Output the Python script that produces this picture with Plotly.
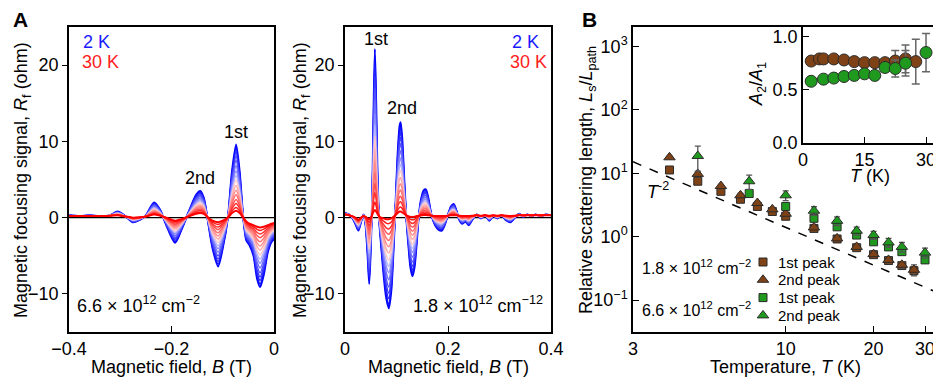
import plotly.graph_objects as go

FONT = "Liberation Sans, Arial, Helvetica, sans-serif"
W, H = 933, 379

# ---------------- Panel A, left (6.6e12 cm^-2) ----------------
left_B = [-0.40, -0.38, -0.36, -0.34, -0.32, -0.305, -0.29, -0.275, -0.262, -0.25,
          -0.234, -0.222, -0.21, -0.193, -0.18, -0.165, -0.152, -0.144, -0.137, -0.13,
          -0.12, -0.109, -0.10, -0.09, -0.082, -0.074, -0.067, -0.06, -0.054, -0.048,
          -0.04, -0.033, -0.027, -0.02, -0.012, -0.005, 0.0]
left_R_2K = [0.3, 0.2, 0.3, 0.2, 0.3, 0.8, 0.2, -0.6, -0.3, 0.3,
             2.0, 1.0, -1.0, -3.3, -1.5, 1.0, 3.0, 3.5, 2.6, 0.0,
             -4.0, -6.4, -4.0, 0.0, 6.0, 9.6, 6.0, 0.0, -3.0, -3.6,
             -5.0, -8.0, -9.1, -7.5, -4.5, -3.2, -2.8]
left_R_30K = [0.2, 0.2, 0.2, 0.2, 0.25, 0.3, 0.15, 0.0, 0.05, 0.15,
              0.4, 0.25, 0.0, -0.4, -0.2, 0.2, 0.5, 0.6, 0.5, 0.1,
              -0.4, -0.6, -0.4, 0.0, 0.6, 0.9, 0.6, 0.0, -0.5, -0.8,
              -1.0, -1.2, -1.3, -1.2, -1.0, -0.8, -0.7]

# ---------------- Panel A, right (1.8e12 cm^-2) ----------------
right_B = [0.000, 0.008, 0.014, 0.020, 0.026, 0.031, 0.036, 0.040, 0.044, 0.047,
           0.050, 0.053, 0.0555, 0.058, 0.0605, 0.063, 0.066, 0.070, 0.075, 0.080,
           0.085, 0.090, 0.094, 0.098, 0.102, 0.106, 0.108, 0.111, 0.115, 0.119,
           0.123, 0.127, 0.131, 0.135, 0.139, 0.143, 0.148, 0.153, 0.157, 0.162,
           0.168, 0.175, 0.182, 0.188, 0.194, 0.200, 0.206, 0.211, 0.216, 0.222,
           0.228, 0.234, 0.240, 0.248, 0.256, 0.264, 0.272, 0.280, 0.288, 0.296,
           0.304, 0.312, 0.321, 0.330, 0.338, 0.346, 0.354, 0.362, 0.370, 0.380,
           0.390, 0.400]
right_R_2K = [0.6, 0.4, 0.0, -0.8, -1.7, -0.6, 0.4, -1.0, -5.0, -8.7,
              -4.0, 3.0, 14.0, 22.1, 15.0, 6.0, 0.0, -3.5, -7.5, -10.5,
              -11.9, -9.5, -4.5, 1.5, 8.0, 12.0, 12.5, 10.5, 5.0, 0.0,
              -3.5, -6.5, -7.7, -6.5, -3.5, 0.0, 2.5, 3.6, 3.7, 2.5,
              0.3, -1.0, -1.6, -1.7, -0.9, 0.4, 1.5, 1.8, 1.0, -0.3,
              -0.8, -0.5, -1.0, -0.2, 0.4, -0.1, 0.3, -0.4, 0.2, -0.1,
              0.3, -0.3, -0.6, 0.0, 0.5, 0.1, 0.4, 0.2, 0.4, 0.2,
              0.4, 0.3]
right_R_30K = [0.4, 0.3, 0.2, 0.0, -0.3, 0.0, 0.2, 0.1, -0.1, -0.2,
               0.0, 0.4, 0.8, 1.0, 0.8, 0.5, 0.2, 0.0, -0.1, -0.2,
               -0.2, -0.1, 0.1, 0.3, 0.6, 0.8, 0.8, 0.7, 0.5, 0.3,
               0.2, 0.1, 0.1, 0.1, 0.2, 0.2, 0.3, 0.35, 0.35, 0.3,
               0.25, 0.2, 0.2, 0.2, 0.2, 0.25, 0.3, 0.3, 0.3, 0.25,
               0.2, 0.2, 0.2, 0.25, 0.3, 0.25, 0.3, 0.25, 0.3, 0.25,
               0.3, 0.25, 0.2, 0.25, 0.3, 0.3, 0.3, 0.3, 0.3, 0.3,
               0.3, 0.3]

# relative oscillation amplitude of each temperature curve (2 K ... 30 K),
# read from the nested peak tips
curve_weight = [1.0, 0.95, 0.89, 0.83, 0.76, 0.68, 0.60, 0.53,
                0.46, 0.38, 0.31, 0.24, 0.17, 0.11, 0.05, 0.0]
curve_colors = ["#0000ff", "#1212ff", "#2626ff", "#3c3cff", "#5454ff", "#6e6eff",
                "#8c8cff", "#b4b4ff", "#ffc8c8", "#ffaaaa", "#ff8c8c", "#ff6e6e",
                "#ff5050", "#ff3232", "#ff1a1a", "#ff0000"]

# ---------------- Panel B main ----------------
brown_T = [4, 5, 6, 7, 8, 9, 10, 12.5, 15, 17.5, 20, 22.5, 25, 27.5]
brown_sq = [11.3, 7.5, 5.2, 3.9, 3.0, 2.5, 2.1, 1.35, 0.92, 0.67, 0.52, 0.42, 0.35, 0.29]
brown_sq_err = [0.8, 0.5, 0.3, 0.2, 0.15, 0.12, 0.1, 0.07, 0.05, 0.04, 0.03, 0.03, 0.03, 0.04]
brown_tri = [17.9, 9.8, 6.3, 4.5, 3.4, 2.7, 2.3, 1.40, 0.94, 0.69, 0.53, 0.43, 0.36, 0.30]
brown_tri_err = [1.0, 0.8, 0.4, 0.3, 0.2, 0.15, 0.12, 0.08, 0.06, 0.05, 0.04, 0.04, 0.04, 0.06]
green_sq_T = [7.5, 10, 12.5, 15, 17.5, 20, 22.5, 25, 30]
green_sq = [4.8, 3.0, 1.95, 1.43, 1.06, 0.83, 0.69, 0.58, 0.43]
green_sq_err = [0.5, 0.3, 0.2, 0.15, 0.1, 0.08, 0.07, 0.06, 0.05]
green_tri_T = [5, 7.5, 10, 12.5, 15, 17.5, 20, 22.5, 25, 30]
green_tri = [18.8, 7.5, 4.5, 2.57, 1.78, 1.24, 1.06, 0.81, 0.69, 0.56]
green_tri_err = [8.0, 1.9, 0.8, 0.4, 0.28, 0.18, 0.15, 0.13, 0.12, 0.1]
guide_T = [3.0, 32.0]
guide_L = [15.2, 0.14]

# ---------------- Panel B inset ----------------
inset_brown_T = [2, 4, 5, 7.5, 10, 12.5, 15, 17.5, 20, 22.5, 25, 27.5]
inset_brown = [0.77, 0.79, 0.79, 0.79, 0.78, 0.765, 0.755, 0.755, 0.755, 0.77, 0.79, 0.765]
inset_brown_err = [0.01, 0.01, 0.01, 0.01, 0.01, 0.01, 0.01, 0.02, 0.04, 0.1, 0.13, 0.21]
inset_green_T = [2, 5, 7.5, 10, 12.5, 15, 17.5, 20, 22.5, 25, 30]
inset_green = [0.58, 0.60, 0.61, 0.625, 0.635, 0.65, 0.635, 0.71, 0.70, 0.75, 0.85]
inset_green_err = [0.01, 0.01, 0.01, 0.01, 0.01, 0.02, 0.03, 0.04, 0.08, 0.12, 0.18]
inset_arrow_levels = [0.80, 0.66]

# legend entries
legend_labels = ["1st peak", "2nd peak", "1st peak", "2nd peak"]

BROWN = "#7f4217"
GREEN = "#1f9a1f"
EDGE = "#2b2b2b"
ERRC = "#555555"
legend_colors = [BROWN, BROWN, GREEN, GREEN]
legend_symbols = ["square", "triangle-up", "square", "triangle-up"]
legend_sizes = [8, 10, 8, 10]


def px_x(p):
    return p / W


def px_y(p):
    return 1 - p / H


fig = go.Figure()

# Panel A curves
for (B, R2, R30, xa, ya) in [(left_B, left_R_2K, left_R_30K, "x", "y"),
                             (right_B, right_R_2K, right_R_30K, "x2", "y2")]:
    for w, c in zip(curve_weight, curve_colors):
        R = [r30 + w * (r2 - r30) for r2, r30 in zip(R2, R30)]
        lw = 2.0 if w in (1.0, 0.0) else 1.5
        fig.add_trace(go.Scatter(x=B, y=R, mode="lines", xaxis=xa, yaxis=ya,
                                 line=dict(color=c, width=lw, shape="spline", smoothing=0.7),
                                 showlegend=False, hoverinfo="skip"))


def add_pts(T, V, E, color, symbol, size):
    fig.add_trace(go.Scatter(x=T, y=V, mode="markers", xaxis="x3", yaxis="y3",
                             error_y=dict(type="data", array=E, color=ERRC, thickness=1.3, width=3),
                             marker=dict(color=color, symbol=symbol, size=size,
                                         line=dict(color=EDGE, width=1)),
                             showlegend=False))


fig.add_trace(go.Scatter(x=guide_T, y=guide_L, mode="lines", xaxis="x3", yaxis="y3",
                         line=dict(color="black", width=1.5, dash="dash"), showlegend=False))
add_pts(brown_T, brown_sq, brown_sq_err, BROWN, "square", 8)
add_pts(brown_T, brown_tri, brown_tri_err, BROWN, "triangle-up", 10)
add_pts(green_sq_T, green_sq, green_sq_err, GREEN, "square", 8)
add_pts(green_tri_T, green_tri, green_tri_err, GREEN, "triangle-up", 10)

# Inset
for T, V, E, color in [(inset_brown_T, inset_brown, inset_brown_err, BROWN),
                       (inset_green_T, inset_green, inset_green_err, GREEN)]:
    fig.add_trace(go.Scatter(x=T, y=V, mode="markers", xaxis="x4", yaxis="y4",
                             error_y=dict(type="data", array=E, color="#666666", thickness=1.5, width=4),
                             marker=dict(color=color, symbol="circle", size=12,
                                         line=dict(color=EDGE, width=1)),
                             showlegend=False))

# Legend key symbols drawn on a pixel-space overlay axis
LEG_X, LEG_Y0, LEG_DY = 763, 262, 17.8
for i in range(len(legend_labels)):
    fig.add_trace(go.Scatter(x=[LEG_X], y=[LEG_Y0 + i * LEG_DY], mode="markers",
                             xaxis="x5", yaxis="y5", showlegend=False, hoverinfo="skip",
                             marker=dict(color=legend_colors[i], symbol=legend_symbols[i],
                                         size=legend_sizes[i], line=dict(color=EDGE, width=1))))

ydomA = [px_y(332), px_y(27)]
axis_common = dict(showline=True, linecolor="black", linewidth=1.5, showgrid=False,
                   zeroline=False, tickcolor="black", ticklabeloverflow="allow",
                   tickfont=dict(size=18, family=FONT, color="black"))

fig.update_layout(
    width=W, height=H, margin=dict(l=0, r=0, t=0, b=0, autoexpand=False),
    paper_bgcolor="white", plot_bgcolor="rgba(0,0,0,0)", showlegend=False,
    font=dict(family=FONT, size=18, color="black"),
    xaxis=dict(domain=[px_x(69), px_x(274)], range=[-0.4, 0], mirror=True, ticks="inside",
               ticklen=6, tickvals=[-0.4, -0.2, 0], ticktext=["−0.4", "−0.2", "0"], anchor="y",
               **axis_common),
    yaxis=dict(domain=ydomA, range=[-15, 25], mirror=True, ticks="outside", ticklen=5,
               tickvals=[-10, 0, 10, 20], ticktext=["−10", "0", "10", "20"], anchor="x",
               **axis_common),
    xaxis2=dict(domain=[px_x(345), px_x(551)], range=[0, 0.4], mirror=True, ticks="inside",
                ticklen=6, tickvals=[0, 0.2, 0.4], ticktext=["0", "0.2", "0.4"], anchor="y2",
                **axis_common),
    yaxis2=dict(domain=ydomA, range=[-15, 25], mirror=True, ticks="outside", ticklen=5,
                tickvals=[-10, 0, 10, 20], ticktext=["−10", "0", "10", "20"], anchor="x2",
                **axis_common),
    xaxis3=dict(domain=[px_x(633), 1.0], type="log", range=[0.4771, 1.5045], mirror=True,
                ticks="inside", ticklen=6, tickvals=[3, 10, 20, 30], ticktext=["3", "10", "20", "30"],
                anchor="y3", **axis_common),
    yaxis3=dict(domain=[px_y(331.7), px_y(27)], type="log", range=[-1.5, 3.31], mirror=False,
                ticks="inside", ticklen=6, tickvals=[0.1, 1, 10, 100, 1000],
                ticktext=["10<sup>−1</sup>", "10<sup>0</sup>", "10<sup>1</sup>", "10<sup>2</sup>",
                          "10<sup>3</sup>"], anchor="x3", **axis_common),
    xaxis4=dict(domain=[px_x(803), 1.0], range=[0, 31.7], mirror=False, ticks="inside", ticklen=6,
                tickvals=[0, 15, 30], anchor="y4", **axis_common),
    yaxis4=dict(domain=[px_y(143), px_y(27)], range=[0, 1.09], mirror=False, ticks="inside",
                ticklen=6, tickvals=[0, 0.5, 1.0], ticktext=["0.0", "0.5", "1.0"], anchor="x4",
                **axis_common),
    xaxis5=dict(domain=[0, 1], range=[0, W], visible=False, anchor="y5"),
    yaxis5=dict(domain=[0, 1], range=[H, 0], visible=False, anchor="x5"),
)

# zero lines in panel A
fig.add_shape(type="line", xref="x domain", yref="y", x0=0, x1=1, y0=0, y1=0,
              line=dict(color="black", width=1.3), layer="below")
fig.add_shape(type="line", xref="x2 domain", yref="y2", x0=0, x1=1, y0=0, y1=0,
              line=dict(color="black", width=1.3), layer="below")


def txt(text, x, y, size=18, color="black", xanchor="center", angle=0, yanchor="middle"):
    fig.add_annotation(text=text, x=px_x(x), y=px_y(y), xref="paper", yref="paper",
                       showarrow=False, xanchor=xanchor, yanchor=yanchor, textangle=angle,
                       font=dict(size=size, color=color, family=FONT))


# panel letters
txt("<b>A</b>", 20, 20, size=21)
txt("<b>B</b>", 589, 20, size=21)

# axis titles
ytitleA = "Magnetic focusing signal, <i>R</i><sub>f</sub> (ohm)"
txt(ytitleA, 22, 180, angle=-90)
txt(ytitleA, 301, 180, angle=-90)
txt("Magnetic field, <i>B</i> (T)", 171.5, 367)
txt("Magnetic field, <i>B</i> (T)", 448, 367)
txt("Temperature, <i>T</i> (K)", 785, 367)
txt("Relative scattering length, <i>L</i><sub>s</sub>/<i>L</i><sub>path</sub>", 587, 180, angle=-90)
txt("<i>T</i> (K)", 870, 176)
txt("<i>A</i><sub>2</sub>/<i>A</i><sub>1</sub>", 757, 84, angle=-90)

# panel A labels
txt("2 K", 81, 42, color="#1a1aff", xanchor="left")
txt("30 K", 80, 62, color="#ff2020", xanchor="left")
txt("2 K", 510, 42, color="#1a1aff", xanchor="left")
txt("30 K", 508, 62, color="#ff2020", xanchor="left")
txt("1st", 236, 132)
txt("2nd", 200, 178)
txt("1st", 376, 39)
txt("2nd", 402, 108)
txt("6.6 × 10<sup>12</sup> cm<sup>−2</sup>", 75, 304, xanchor="left")
txt("1.8 × 10<sup>12</sup> cm<sup>−12</sup>", 545, 304, xanchor="right")

# panel B labels
txt("<i>T</i><sup>-2</sup>", 658, 190)
txt("1.8 × 10<sup>12</sup> cm<sup>−2</sup>", 640, 267, size=16, xanchor="left")
txt("6.6 × 10<sup>12</sup> cm<sup>−2</sup>", 640, 309, size=16, xanchor="left")
for i, lab in enumerate(legend_labels):
    txt(lab, LEG_X + 13, LEG_Y0 + i * LEG_DY, size=15, xanchor="left")

# inset arrows
for lv in inset_arrow_levels:
    fig.add_annotation(x=-0.6, y=lv, xref="x4", yref="y4", ax=-18, ay=0, axref="pixel",
                       showarrow=True, arrowhead=2, arrowsize=1, arrowwidth=1.3,
                       arrowcolor="black", text="")

fig.write_html("out.html", config={"displayModeBar": False},
               post_script="document.body.style.margin='0';document.body.style.overflow='hidden';")
